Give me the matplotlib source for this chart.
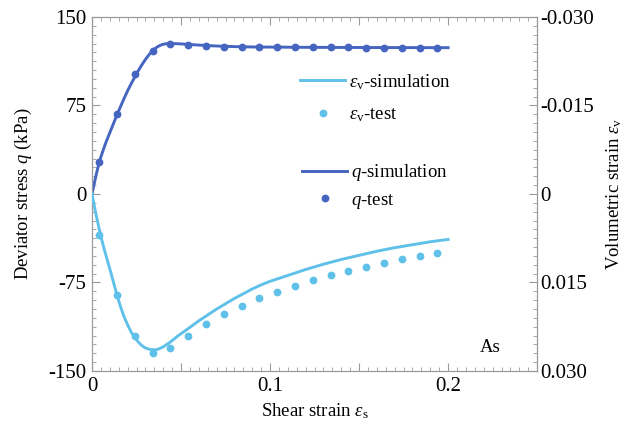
import matplotlib
matplotlib.use("Agg")
import matplotlib.pyplot as plt
from matplotlib.ticker import MultipleLocator, FixedLocator, FixedFormatter
from matplotlib.lines import Line2D

plt.rcParams['font.family'] = ['Liberation Serif', 'DejaVu Serif']
plt.rcParams['mathtext.fontset'] = 'custom'
plt.rcParams['mathtext.rm'] = 'Liberation Serif'
plt.rcParams['mathtext.it'] = 'Liberation Serif:italic'
plt.rcParams['axes.unicode_minus'] = False

# q data
q_sim_x = [0, 0.002, 0.004, 0.006, 0.008, 0.010, 0.012, 0.014, 0.016, 0.018, 0.020, 0.022,
           0.024, 0.026, 0.028, 0.030, 0.032, 0.034, 0.036, 0.038, 0.040, 0.042, 0.045,
           0.050, 0.055, 0.060, 0.070, 0.080, 0.090, 0.12, 0.16, 0.2]
q_sim = [0, 14, 27, 36, 44.5, 52, 59.5, 67, 74, 81, 87.5, 93.5,
         99, 104.5, 109.5, 114, 118, 121.5, 124, 125.8, 126.9, 127.4, 127.5,
         127.2, 126.7, 126.2, 125.4, 124.9, 124.6, 124.3, 124.1, 124.0]
test_x = [0.004 + 0.01 * i for i in range(20)]
q_test = [27, 68, 102, 121.5, 126.8, 126.0, 125.2, 124.7, 124.4, 124.4,
          124.3, 124.3, 124.2, 124.2, 124.2, 124.1, 124.1, 124.1, 124.0, 124.0]

# volumetric strain data
ev_sim_x = [0, 0.002, 0.004, 0.006, 0.008, 0.010, 0.012, 0.014, 0.016, 0.018, 0.020, 0.022,
            0.024, 0.026, 0.028, 0.030, 0.032, 0.034, 0.036, 0.038, 0.040, 0.044, 0.048,
            0.055, 0.060, 0.065, 0.070, 0.075, 0.080, 0.085, 0.090, 0.095, 0.100, 0.110,
            0.120, 0.130, 0.140, 0.150, 0.160, 0.170, 0.180, 0.190, 0.200]
ev_sim = [0, 0.0031, 0.0059, 0.0084, 0.0106, 0.0127, 0.0149, 0.0171, 0.0191, 0.0208, 0.0222,
          0.0234, 0.0243, 0.0251, 0.0257, 0.0261, 0.0263, 0.0264, 0.0264, 0.0262, 0.0259,
          0.0251, 0.0241, 0.0226, 0.0215, 0.0205, 0.0195, 0.0186, 0.0177, 0.0169, 0.0161,
          0.0154, 0.0148, 0.0138, 0.0128, 0.0119, 0.0111, 0.0104, 0.0097, 0.0091, 0.0086,
          0.0081, 0.0077]
ev_test = [0.0069, 0.0171, 0.0241, 0.0270, 0.0261, 0.0241, 0.0220, 0.0203, 0.0190, 0.0177,
           0.0166, 0.0156, 0.0146, 0.0137, 0.0131, 0.0123, 0.0117, 0.0110, 0.0105, 0.0100]

x_ticks = [0, 0.05, 0.1, 0.15, 0.2, 0.25]
x_labels = ['0', '', '0.1', '', '0.2', '']
q_ticks = [-150, -75, 0, 75, 150]
ev_ticks = [-0.030, -0.015, 0, 0.015, 0.030]
ev_labels = ['-0.030', '-0.015', '0', '0.015', '0.030']

c_ev = '#5FC1E9'
c_q = '#4565C1'
grey = '#9a9a9a'
fs = 13.5
tfs = 15

fig = plt.figure(figsize=(6.26, 4.28), dpi=100)
ax = fig.add_axes([0.147, 0.1332, 0.711, 0.8271])
ax2 = ax.twinx()

ax.plot(q_sim_x, q_sim, color=c_q, lw=2.1, zorder=3)
ax.plot(test_x, q_test, 'o', color=c_q, ms=4.6, zorder=4)
ax2.plot(ev_sim_x, ev_sim, color=c_ev, lw=2.1, zorder=3)
ax2.plot(test_x, ev_test, 'o', color=c_ev, ms=4.6, zorder=4)

ax.set_xlim(0, 0.25)
ax.set_ylim(-150, 150)
ax2.set_ylim(0.030, -0.030)

ax.xaxis.set_major_locator(FixedLocator(x_ticks))
ax.xaxis.set_major_formatter(FixedFormatter(x_labels))
ax.xaxis.set_minor_locator(MultipleLocator(0.005))
ax.yaxis.set_major_locator(FixedLocator(q_ticks))
ax.yaxis.set_minor_locator(MultipleLocator(7.5))
ax2.yaxis.set_major_locator(FixedLocator(ev_ticks))
ax2.yaxis.set_major_formatter(FixedFormatter(ev_labels))
ax2.yaxis.set_minor_locator(MultipleLocator(0.0015))

for a in (ax, ax2):
    for s in a.spines.values():
        s.set_color(grey)
        s.set_linewidth(0.8)
ax.tick_params(which='both', direction='in', color=grey, labelsize=tfs, top=True, right=False)
ax.tick_params(which='major', length=6, width=0.8, pad=4)
ax.tick_params(which='minor', length=3, width=0.6)
ax2.tick_params(which='both', direction='in', color=grey, labelsize=tfs)
ax2.tick_params(which='major', length=6, width=0.8, pad=2)
ax2.tick_params(which='minor', length=3, width=0.6)

ax.set_xlabel(r'Shear strain $\varepsilon_{\rm s}$', fontsize=fs, labelpad=4)
ax.set_ylabel(r'Deviator stress $q$ (kPa)', fontsize=fs, labelpad=10)
ax2.set_ylabel(r'Volumetric strain $\varepsilon_{\rm v}$', fontsize=fs, labelpad=8)

ax.text(0.2236, -129.7, 'As', fontsize=fs, ha='center', va='center')

h1 = [Line2D([], [], color=c_ev, lw=2.1), Line2D([], [], color=c_ev, marker='o', ls='', ms=4.6)]
l1 = [r'$\varepsilon_{\rm v}$-simulation', r'$\varepsilon_{\rm v}$-test']
leg1 = ax.legend(h1, l1, loc='upper left', bbox_to_anchor=(0.468, 0.845), frameon=False,
                 fontsize=fs, handlelength=2.4, handletextpad=0.2, labelspacing=0.8,
                 borderaxespad=0, borderpad=0)
ax.add_artist(leg1)
h2 = [Line2D([], [], color=c_q, lw=2.1), Line2D([], [], color=c_q, marker='o', ls='', ms=4.6)]
l2 = [r'$q$-simulation', r'$q$-test']
ax.legend(h2, l2, loc='upper left', bbox_to_anchor=(0.472, 0.59), frameon=False,
          fontsize=fs, handlelength=2.4, handletextpad=0.2, labelspacing=0.45,
          borderaxespad=0, borderpad=0)

fig.savefig('out.png', dpi=100)
